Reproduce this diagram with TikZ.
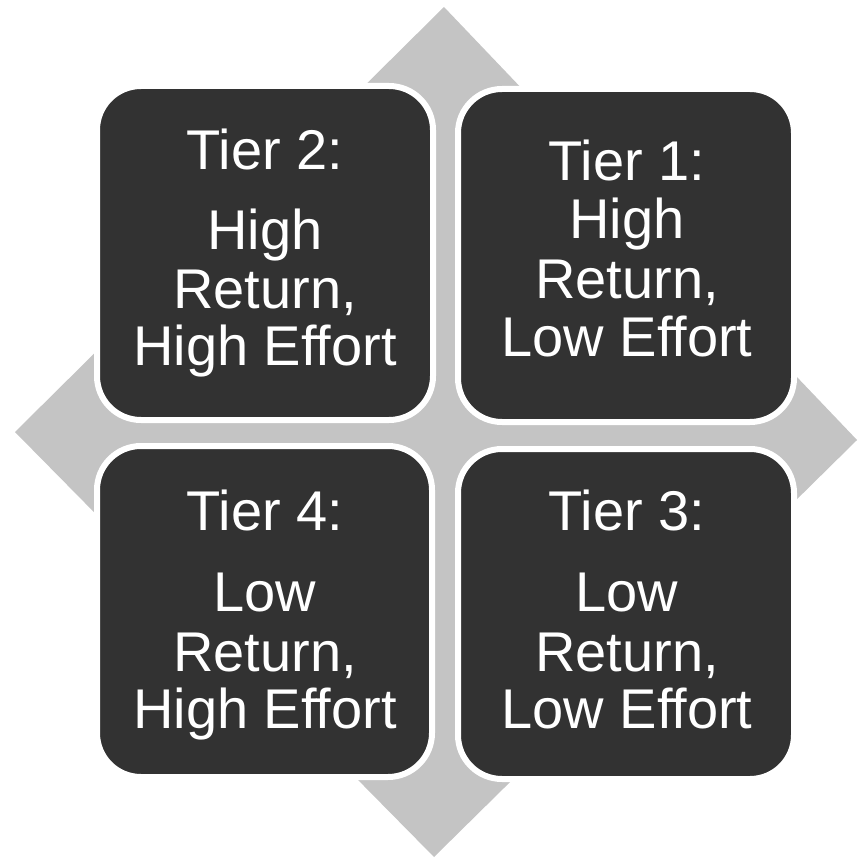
\documentclass[tikz,border=0pt]{standalone}
\usepackage{fontspec}
\setmainfont{Liberation Sans}
\begin{document}
\begin{tikzpicture}[x=1pt,y=-1pt,
  tierbox/.style={fill=boxgray,draw=white,line width=6pt,rounded corners=44pt},
  tiertext/.style={text=white,inner sep=0pt,anchor=base,font=\fontsize{56}{60}\selectfont}]
\definecolor{boxgray}{HTML}{323232}
\definecolor{diamondgray}{HTML}{C4C4C4}
\useasboundingbox (0,0) rectangle (862,861);
\fill[white] (0,0) rectangle (862,861);
% diamond background
\fill[diamondgray] (444,7) -- (857,440) -- (434,857) -- (15,432) -- cycle;
% boxes
\draw[tierbox] (97,86) rectangle (433,420);
\draw[tierbox] (458,89) rectangle (794,422);
\draw[tierbox] (97,446) rectangle (432,777);
\draw[tierbox] (458,449) rectangle (794,779);
% texts
\node[tiertext] (t2a) at (265,170) {Tier 2:};
\node[tiertext] (t2b) at (265,250) {High};
\node[tiertext] (t2c) at (265,308) {Return,};
\node[tiertext] (t2d) at (265,365) {High Effort};
\node[tiertext] (t1a) at (627,181) {Tier 1:};
\node[tiertext] (t1b) at (627,239) {High};
\node[tiertext] (t1c) at (627,298) {Return,};
\node[tiertext] (t1d) at (627,356) {Low Effort};
\node[tiertext] (t4a) at (265,530) {Tier 4:};
\node[tiertext] (t4b) at (265,611) {Low};
\node[tiertext] (t4c) at (265,671) {Return,};
\node[tiertext] (t4d) at (265,728) {High Effort};
\node[tiertext] (t3a) at (627,530) {Tier 3:};
\node[tiertext] (t3b) at (627,611) {Low};
\node[tiertext] (t3c) at (627,671) {Return,};
\node[tiertext] (t3d) at (627,728) {Low Effort};
\end{tikzpicture}
\end{document}
